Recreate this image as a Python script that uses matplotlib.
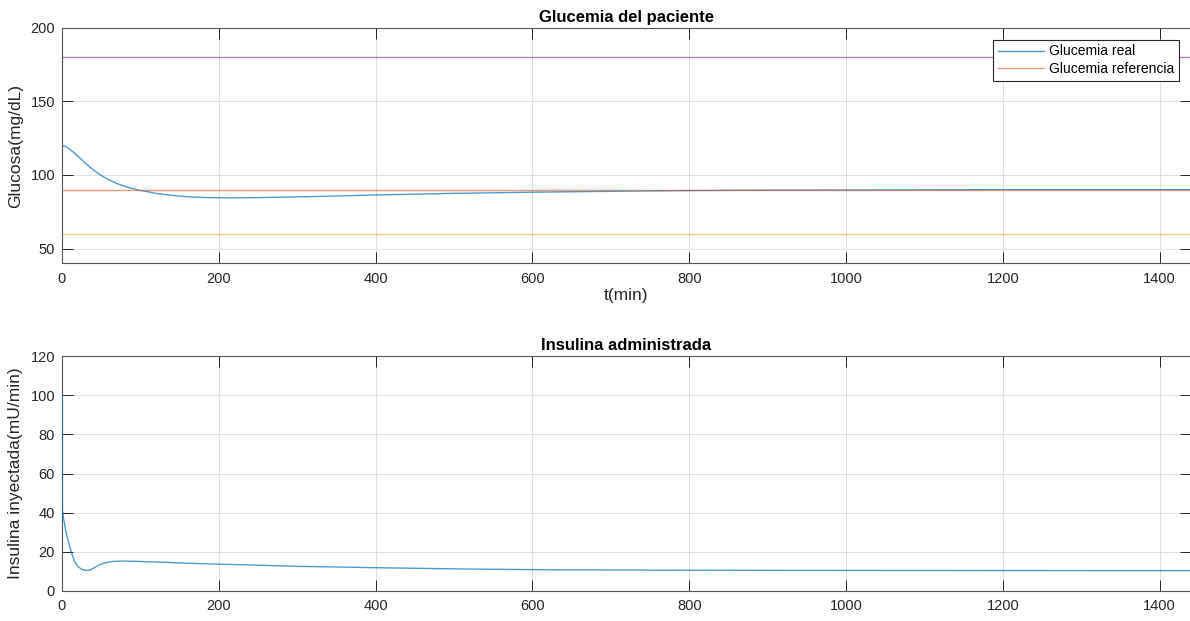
import matplotlib.pyplot as plt

plt.rcParams['font.family'] = ['Liberation Sans', 'DejaVu Sans']

# Simulated glucose response (min, mg/dL)
t_glu = [0, 5, 10, 15, 20, 25, 30, 35, 40, 50, 60, 70, 80, 90, 100, 120, 140,
         160, 180, 200, 225, 250, 300, 350, 400, 500, 600, 700, 800, 900, 1000,
         1200, 1440]
glucosa = [120, 119.3, 117.5, 115.2, 112.8, 110.5, 108, 105.6, 103.4, 99.6,
           96.6, 94.2, 92.3, 90.8, 89.5, 87.5, 86.1, 85.2, 84.7, 84.5, 84.5,
           84.6, 85.1, 85.7, 86.4, 87.5, 88.3, 88.9, 89.4, 89.7, 89.8, 90.0,
           90.0]

# Insulin infusion (min, mU/min)
t_ins = [0, 0.5, 2, 4, 6, 8, 10, 13, 16, 20, 25, 30, 35, 40, 46, 55, 65, 75,
         90, 120, 160, 200, 250, 300, 400, 500, 600, 800, 1000, 1200, 1440]
insulina = [100, 41, 37, 32.5, 28.5, 25.5, 22.6, 18.5, 15.2, 12.6, 11.1, 10.5,
            10.6, 11.6, 13.0, 14.4, 15.1, 15.3, 15.2, 14.8, 14.2, 13.7, 13.2,
            12.6, 11.9, 11.3, 10.9, 10.6, 10.5, 10.45, 10.4]

t_fin = 1440
gluc_ref = 90
gluc_min = 60
gluc_max = 180

azul = (0, 0.447, 0.741)
naranja = (0.85, 0.325, 0.098)
amarillo = (0.929, 0.694, 0.125)
morado = (0.494, 0.184, 0.556)
gris = '#262626'

fig = plt.figure(figsize=(11.9, 6.21), dpi=100)
ax1 = fig.add_axes([62 / 1190, 1 - 263.3 / 621, 1129 / 1190, 235.6 / 621])
ax2 = fig.add_axes([62 / 1190, 1 - 591 / 621, 1129 / 1190, 235 / 621])

lw = 1.0
al = 0.7
ax1.plot(t_glu, glucosa, color=azul, lw=lw, alpha=al, label='Glucemia real')
ax1.plot([0, t_fin], [gluc_ref, gluc_ref], color=naranja, lw=lw, alpha=0.55,
         label='Glucemia referencia')
ax1.plot([0, t_fin], [gluc_min, gluc_min], color=amarillo, lw=lw, alpha=0.6)
ax1.plot([0, t_fin], [gluc_max, gluc_max], color=morado, lw=lw, alpha=0.6)
ax1.set_ylim(40, 200)
ax1.set_yticks([50, 100, 150, 200])
ax1.set_title('Glucemia del paciente', fontsize=12, fontweight='bold', color='black', pad=4)
ax1.set_xlabel('t(min)', fontsize=12.5, color=gris, labelpad=2)
ax1.set_ylabel('Glucosa(mg/dL)', fontsize=12.5, color=gris, labelpad=5)
leg = ax1.legend(loc='upper right', fontsize=10, fancybox=False, framealpha=1,
                 edgecolor=gris, handlelength=3.3, borderaxespad=0.85,
                 borderpad=0.35, labelspacing=0.25, handletextpad=0.4)
leg.get_frame().set_linewidth(0.8)

ax2.plot(t_ins, insulina, color=azul, lw=lw, alpha=al, zorder=3)
ax2.set_ylim(0, 120)
ax2.set_yticks(range(0, 121, 20))
ax2.set_title('Insulina administrada', fontsize=12, fontweight='bold', color='black', pad=4)
ax2.set_ylabel('Insulina inyectada(mU/min)', fontsize=12.5, color=gris, labelpad=5)

for ax in (ax1, ax2):
    ax.set_xlim(0, t_fin)
    ax.set_xticks(range(0, 1401, 200))
    ax.grid(True, color='#e0e0e0', lw=0.7)
    ax.set_axisbelow(True)
    ax.tick_params(direction='in', length=8, width=0.7, colors=gris,
                   labelsize=10.5, top=True, right=True)
    ax.tick_params(axis='x', pad=6)
    ax.tick_params(axis='y', pad=5)
    for s in ax.spines.values():
        s.set_color('#555555')
        s.set_linewidth(0.8)

fig.savefig('out.png', dpi=100)
